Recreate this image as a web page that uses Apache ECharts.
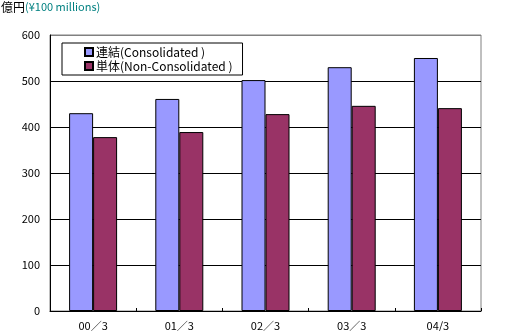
<!DOCTYPE html>
<html><head><meta charset="utf-8">
<script src="https://cdn.jsdelivr.net/npm/echarts@6/dist/echarts.min.js"></script>
<style>html,body{margin:0;padding:0;background:#fff}#c{width:531px;height:331px}</style>
</head><body><div id="c"></div>
<script>
const categories = ['00／3', '01／3', '02／3', '03／3', '04/3'];
const consolidated = [430, 461, 502, 530, 550];
const nonConsolidated = [378, 389, 428, 446, 441];
const yTicks = [0, 100, 200, 300, 400, 500, 600];

const FONT = '"Noto Sans CJK JP", sans-serif';
const chart = echarts.init(document.getElementById('c'), null, {renderer: 'canvas'});
chart.setOption({
  animation: false,
  backgroundColor: '#fff',
  title: {
    left: -4, top: -4,
    text: '{a|億円}{b|(¥100 millions)}',
    textStyle: {
      fontWeight: 'normal',
      rich: {
        a: {fontSize: 12, color: '#000', fontFamily: FONT, fontWeight: 'normal'},
        b: {fontSize: 11, color: '#008080', fontFamily: FONT, fontWeight: 'normal'}
      }
    }
  },
  legend: {
    left: 62, top: 43, orient: 'vertical',
    backgroundColor: '#fff',
    borderColor: '#000', borderWidth: 1,
    padding: [3, 10, 3, 22],
    itemWidth: 8, itemHeight: 8, itemGap: 2,
    icon: 'rect',
    textStyle: {fontSize: 12, color: '#000', fontFamily: FONT, padding: [0, 0, 0, -2]},
    data: ['連結(Consolidated )', '単体(Non-Consolidated )']
  },
  grid: {left: 50, right: 50, top: 35, bottom: 19, show: true, borderColor: '#808080', borderWidth: 1},
  xAxis: {
    type: 'category', data: categories,
    axisLine: {lineStyle: {color: '#000', width: 1}},
    axisTick: {show: true, inside: true, length: 3, lineStyle: {color: '#000'}},
    axisLabel: {fontSize: 11, color: '#000', fontFamily: FONT, margin: 9}
  },
  yAxis: {
    type: 'value', min: yTicks[0], max: yTicks[yTicks.length - 1], interval: 100,
    axisLine: {show: true, lineStyle: {color: '#000', width: 1}},
    axisTick: {show: false},
    axisLabel: {fontSize: 11, color: '#000', fontFamily: FONT, margin: 10},
    splitLine: {lineStyle: {color: ['#000', '#000', '#000', '#000', '#000', '#000', '#808080'], width: 1}}
  },
  series: [
    {name: '連結(Consolidated )', type: 'bar', data: consolidated, barWidth: 24, barGap: '0%',
     itemStyle: {color: '#9999FF', borderColor: '#000', borderWidth: 1}},
    {name: '単体(Non-Consolidated )', type: 'bar', data: nonConsolidated, barWidth: 24, barGap: '0%',
     itemStyle: {color: '#993366', borderColor: '#000', borderWidth: 1}}
  ]
});
</script></body></html>
